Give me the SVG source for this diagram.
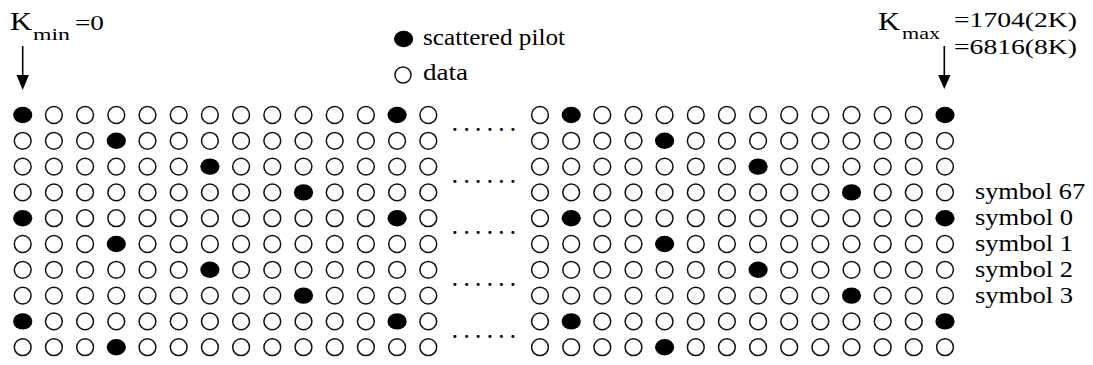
<svg xmlns="http://www.w3.org/2000/svg" xmlns:xlink="http://www.w3.org/1999/xlink" width="1093" height="365" viewBox="0 0 1093 365">
<style>
.t{font-family:"Liberation Serif","Times New Roman",serif;fill:#000}
.data{fill:#fff;stroke:#111;stroke-width:1.5}
.pilot{fill:#000}
.arr{stroke:#000;stroke-width:1.6}
.dots{font-family:"Liberation Serif","Times New Roman",serif;font-weight:bold;font-size:19px;letter-spacing:6.85px;fill:#000}
</style>
<defs>
<circle id="o" r="8.4" class="data"/>
<ellipse id="p" rx="9.6" ry="8.2" class="pilot"/>
<g id="pat0">
<use href="#p" x="22.7"/><use href="#o" x="53.9"/><use href="#o" x="85.1"/><use href="#o" x="116.3"/><use href="#o" x="147.5"/><use href="#o" x="178.7"/><use href="#o" x="209.9"/><use href="#o" x="241.1"/><use href="#o" x="272.3"/><use href="#o" x="303.5"/><use href="#o" x="334.7"/><use href="#o" x="365.9"/><use href="#p" x="397.1"/><use href="#o" x="428.3"/>
<use href="#o" x="540"/><use href="#p" x="571.2"/><use href="#o" x="602.3"/><use href="#o" x="633.5"/><use href="#o" x="664.6"/><use href="#o" x="695.8"/><use href="#o" x="726.9"/><use href="#o" x="758.1"/><use href="#o" x="789.2"/><use href="#o" x="820.4"/><use href="#o" x="851.5"/><use href="#o" x="882.7"/><use href="#o" x="913.8"/><use href="#p" x="945"/>
</g>
<g id="pat1">
<use href="#o" x="22.7"/><use href="#o" x="53.9"/><use href="#o" x="85.1"/><use href="#p" x="116.3"/><use href="#o" x="147.5"/><use href="#o" x="178.7"/><use href="#o" x="209.9"/><use href="#o" x="241.1"/><use href="#o" x="272.3"/><use href="#o" x="303.5"/><use href="#o" x="334.7"/><use href="#o" x="365.9"/><use href="#o" x="397.1"/><use href="#o" x="428.3"/>
<use href="#o" x="540"/><use href="#o" x="571.2"/><use href="#o" x="602.3"/><use href="#o" x="633.5"/><use href="#p" x="664.6"/><use href="#o" x="695.8"/><use href="#o" x="726.9"/><use href="#o" x="758.1"/><use href="#o" x="789.2"/><use href="#o" x="820.4"/><use href="#o" x="851.5"/><use href="#o" x="882.7"/><use href="#o" x="913.8"/><use href="#o" x="945"/>
</g>
<g id="pat2">
<use href="#o" x="22.7"/><use href="#o" x="53.9"/><use href="#o" x="85.1"/><use href="#o" x="116.3"/><use href="#o" x="147.5"/><use href="#o" x="178.7"/><use href="#p" x="209.9"/><use href="#o" x="241.1"/><use href="#o" x="272.3"/><use href="#o" x="303.5"/><use href="#o" x="334.7"/><use href="#o" x="365.9"/><use href="#o" x="397.1"/><use href="#o" x="428.3"/>
<use href="#o" x="540"/><use href="#o" x="571.2"/><use href="#o" x="602.3"/><use href="#o" x="633.5"/><use href="#o" x="664.6"/><use href="#o" x="695.8"/><use href="#o" x="726.9"/><use href="#p" x="758.1"/><use href="#o" x="789.2"/><use href="#o" x="820.4"/><use href="#o" x="851.5"/><use href="#o" x="882.7"/><use href="#o" x="913.8"/><use href="#o" x="945"/>
</g>
<g id="pat3">
<use href="#o" x="22.7"/><use href="#o" x="53.9"/><use href="#o" x="85.1"/><use href="#o" x="116.3"/><use href="#o" x="147.5"/><use href="#o" x="178.7"/><use href="#o" x="209.9"/><use href="#o" x="241.1"/><use href="#o" x="272.3"/><use href="#p" x="303.5"/><use href="#o" x="334.7"/><use href="#o" x="365.9"/><use href="#o" x="397.1"/><use href="#o" x="428.3"/>
<use href="#o" x="540"/><use href="#o" x="571.2"/><use href="#o" x="602.3"/><use href="#o" x="633.5"/><use href="#o" x="664.6"/><use href="#o" x="695.8"/><use href="#o" x="726.9"/><use href="#o" x="758.1"/><use href="#o" x="789.2"/><use href="#o" x="820.4"/><use href="#p" x="851.5"/><use href="#o" x="882.7"/><use href="#o" x="913.8"/><use href="#o" x="945"/>
</g>
</defs>
<rect width="1093" height="365" fill="#fff"/>
<g id="kmin-label" class="t">
<text x="10" y="30" font-size="25" textLength="22" lengthAdjust="spacingAndGlyphs">K</text>
<text x="33" y="39.5" font-size="17" textLength="37" lengthAdjust="spacingAndGlyphs">min</text>
<text x="75" y="30" font-size="20" textLength="29" lengthAdjust="spacingAndGlyphs">=0</text>
</g>
<g id="kmax-label" class="t">
<text x="878" y="30" font-size="25" textLength="22" lengthAdjust="spacingAndGlyphs">K</text>
<text x="902" y="39" font-size="17" textLength="38" lengthAdjust="spacingAndGlyphs">max</text>
<text x="954" y="27" font-size="21" textLength="123" lengthAdjust="spacingAndGlyphs">=1704(2K)</text>
<text x="954" y="53.5" font-size="21" textLength="123" lengthAdjust="spacingAndGlyphs">=6816(8K)</text>
</g>
<g id="legend">
<use href="#p" x="403.6" y="39"/>
<circle cx="403" cy="75" r="8" class="data"/>
<text class="t" x="423" y="45" font-size="23" textLength="142" lengthAdjust="spacingAndGlyphs">scattered pilot</text>
<text class="t" x="423" y="80" font-size="23" textLength="45" lengthAdjust="spacingAndGlyphs">data</text>
</g>
<g id="connectors">
<line class="arr" x1="22.7" y1="46" x2="22.7" y2="77"/>
<polygon points="16.5,75 28.9,75 22.7,90" fill="#000"/>
<line class="arr" x1="944.3" y1="46" x2="944.3" y2="77"/>
<polygon points="938.1,75 950.5,75 944.3,89" fill="#000"/>
</g>
<g id="grid">
<use href="#pat0" y="115"/>
<use href="#pat1" y="140.8"/>
<use href="#pat2" y="166.6"/>
<use href="#pat3" y="192.4"/>
<use href="#pat0" y="218.2"/>
<use href="#pat1" y="244"/>
<use href="#pat2" y="269.8"/>
<use href="#pat3" y="295.6"/>
<use href="#pat0" y="321.4"/>
<use href="#pat1" y="347.2"/>
</g>
<g id="ellipsis" class="dots">
<text x="452.6" y="131">......</text>
<text x="452.6" y="182.7">......</text>
<text x="452.6" y="234.4">......</text>
<text x="452.6" y="286.1">......</text>
<text x="452.6" y="337.8">......</text>
</g>
<g id="symbol-labels" class="t" font-size="24">
<text x="975" y="199" textLength="110" lengthAdjust="spacingAndGlyphs">symbol 67</text>
<text x="975" y="225" textLength="98" lengthAdjust="spacingAndGlyphs">symbol 0</text>
<text x="975" y="251" textLength="98" lengthAdjust="spacingAndGlyphs">symbol 1</text>
<text x="975" y="277" textLength="98" lengthAdjust="spacingAndGlyphs">symbol 2</text>
<text x="975" y="303" textLength="98" lengthAdjust="spacingAndGlyphs">symbol 3</text>
</g>
</svg>
